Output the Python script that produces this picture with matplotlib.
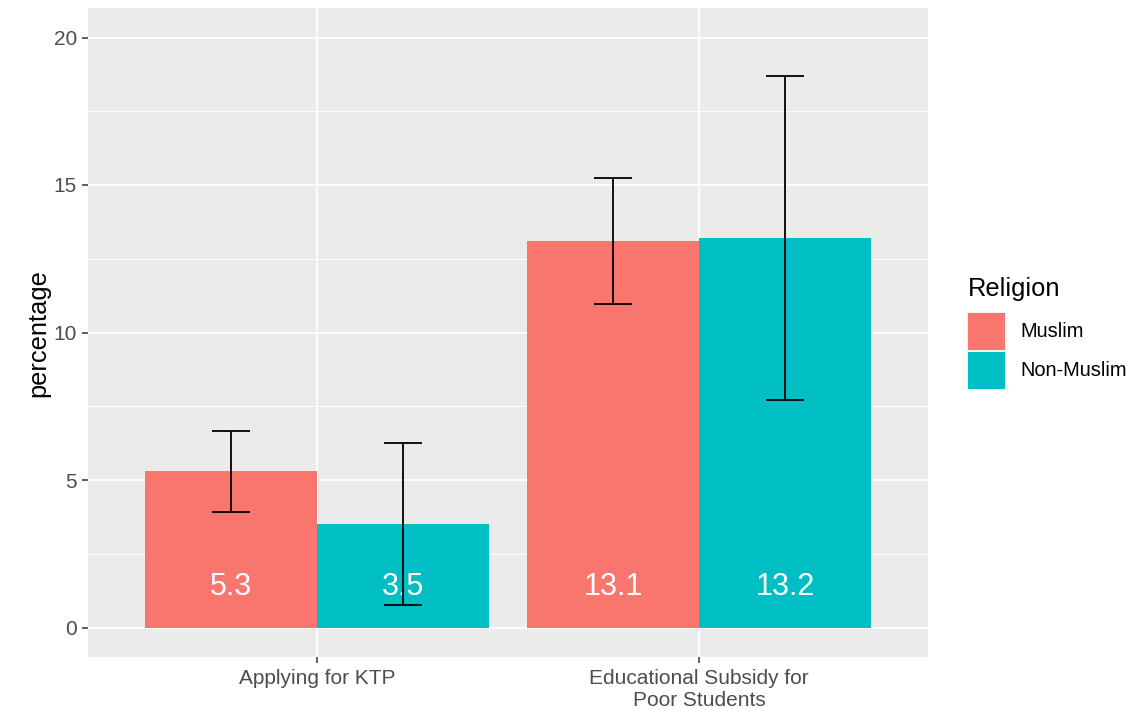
import matplotlib
matplotlib.use('agg')
import matplotlib.pyplot as plt
from matplotlib.patches import Rectangle
import numpy as np

categories = ['Applying for KTP', 'Educational Subsidy for\nPoor Students']
groups = ['Muslim', 'Non-Muslim']
group_colors = ['#F8766D', '#00BFC4']
pct = {'Muslim': [5.3, 13.1], 'Non-Muslim': [3.5, 13.2]}
err_low = {'Muslim': [3.93, 10.96], 'Non-Muslim': [0.77, 7.72]}
err_high = {'Muslim': [6.67, 15.24], 'Non-Muslim': [6.26, 18.68]}

W, H = 1145, 709
fig = plt.figure(figsize=(W / 100, H / 100), dpi=100, facecolor='white')
ax = fig.add_axes([88 / W, (H - 657) / H, 840 / W, 649 / H])
ax.set_facecolor('#EBEBEB')

font = 'Liberation Sans'
x = np.arange(1, len(categories) + 1)
bw = 0.45
for i, g in enumerate(groups):
    xs = x + (i - 0.5) * bw
    ax.bar(xs, pct[g], width=bw, color=group_colors[i], zorder=3)
    for xi, v in zip(xs, pct[g]):
        ax.text(xi, 1.5, f'{v:.1f}', color='white', ha='center',
                va='center_baseline', fontsize=22, family=font, zorder=4)
    lo = np.array(err_low[g])
    hi = np.array(err_high[g])
    ax.vlines(xs, lo, hi, color='black', lw=1.3, zorder=5)
    ax.hlines(lo, xs - 0.05, xs + 0.05, color='black', lw=1.3, zorder=5)
    ax.hlines(hi, xs - 0.05, xs + 0.05, color='black', lw=1.3, zorder=5)

ax.set_xlim(0.4, 2.6)
ax.set_ylim(-1, 21)
ax.set_yticks([0, 5, 10, 15, 20])
ax.set_yticks([2.5, 7.5, 12.5, 17.5], minor=True)
ax.set_xticks(x)
ax.set_xticklabels(categories, family=font, fontsize=15, color='#4D4D4D',
                   linespacing=1.2)
for lab in ax.get_yticklabels():
    lab.set_family(font)
    lab.set_fontsize(15)
    lab.set_color('#4D4D4D')
ax.grid(which='major', color='white', lw=1.3, zorder=0)
ax.grid(which='minor', axis='y', color='white', lw=0.65, zorder=0)
ax.tick_params(which='major', length=4.5, width=1.1, color='#333333', pad=3.5)
ax.tick_params(axis='x', pad=4.5)
ax.tick_params(which='minor', length=0)
for s in ax.spines.values():
    s.set_visible(False)
ax.set_ylabel('percentage', family=font, fontsize=18.3, color='black')
ax.yaxis.set_label_coords(38 / W, 1 - 333 / H, transform=fig.transFigure)
ax.yaxis.label.set_va('center')

# legend
fig.text(968 / W, 1 - 289 / H, 'Religion', family=font, fontsize=18.4,
         ha='left', va='center')
for i, g in enumerate(groups):
    top = 313 + i * 39
    fig.patches.append(Rectangle((967 / W, 1 - (top + 38) / H), 39 / W, 39 / H,
                                 transform=fig.transFigure, facecolor='#F2F2F2',
                                 edgecolor='none'))
    fig.patches.append(Rectangle((968 / W, 1 - (top + 37) / H), 37 / W, 37 / H,
                                 transform=fig.transFigure, facecolor=group_colors[i],
                                 edgecolor='none'))
    fig.text(1020 / W, 1 - (top + 19) / H, g, family=font, fontsize=14.4,
             ha='left', va='center')

fig.savefig('out.png', dpi=100, facecolor='white')
